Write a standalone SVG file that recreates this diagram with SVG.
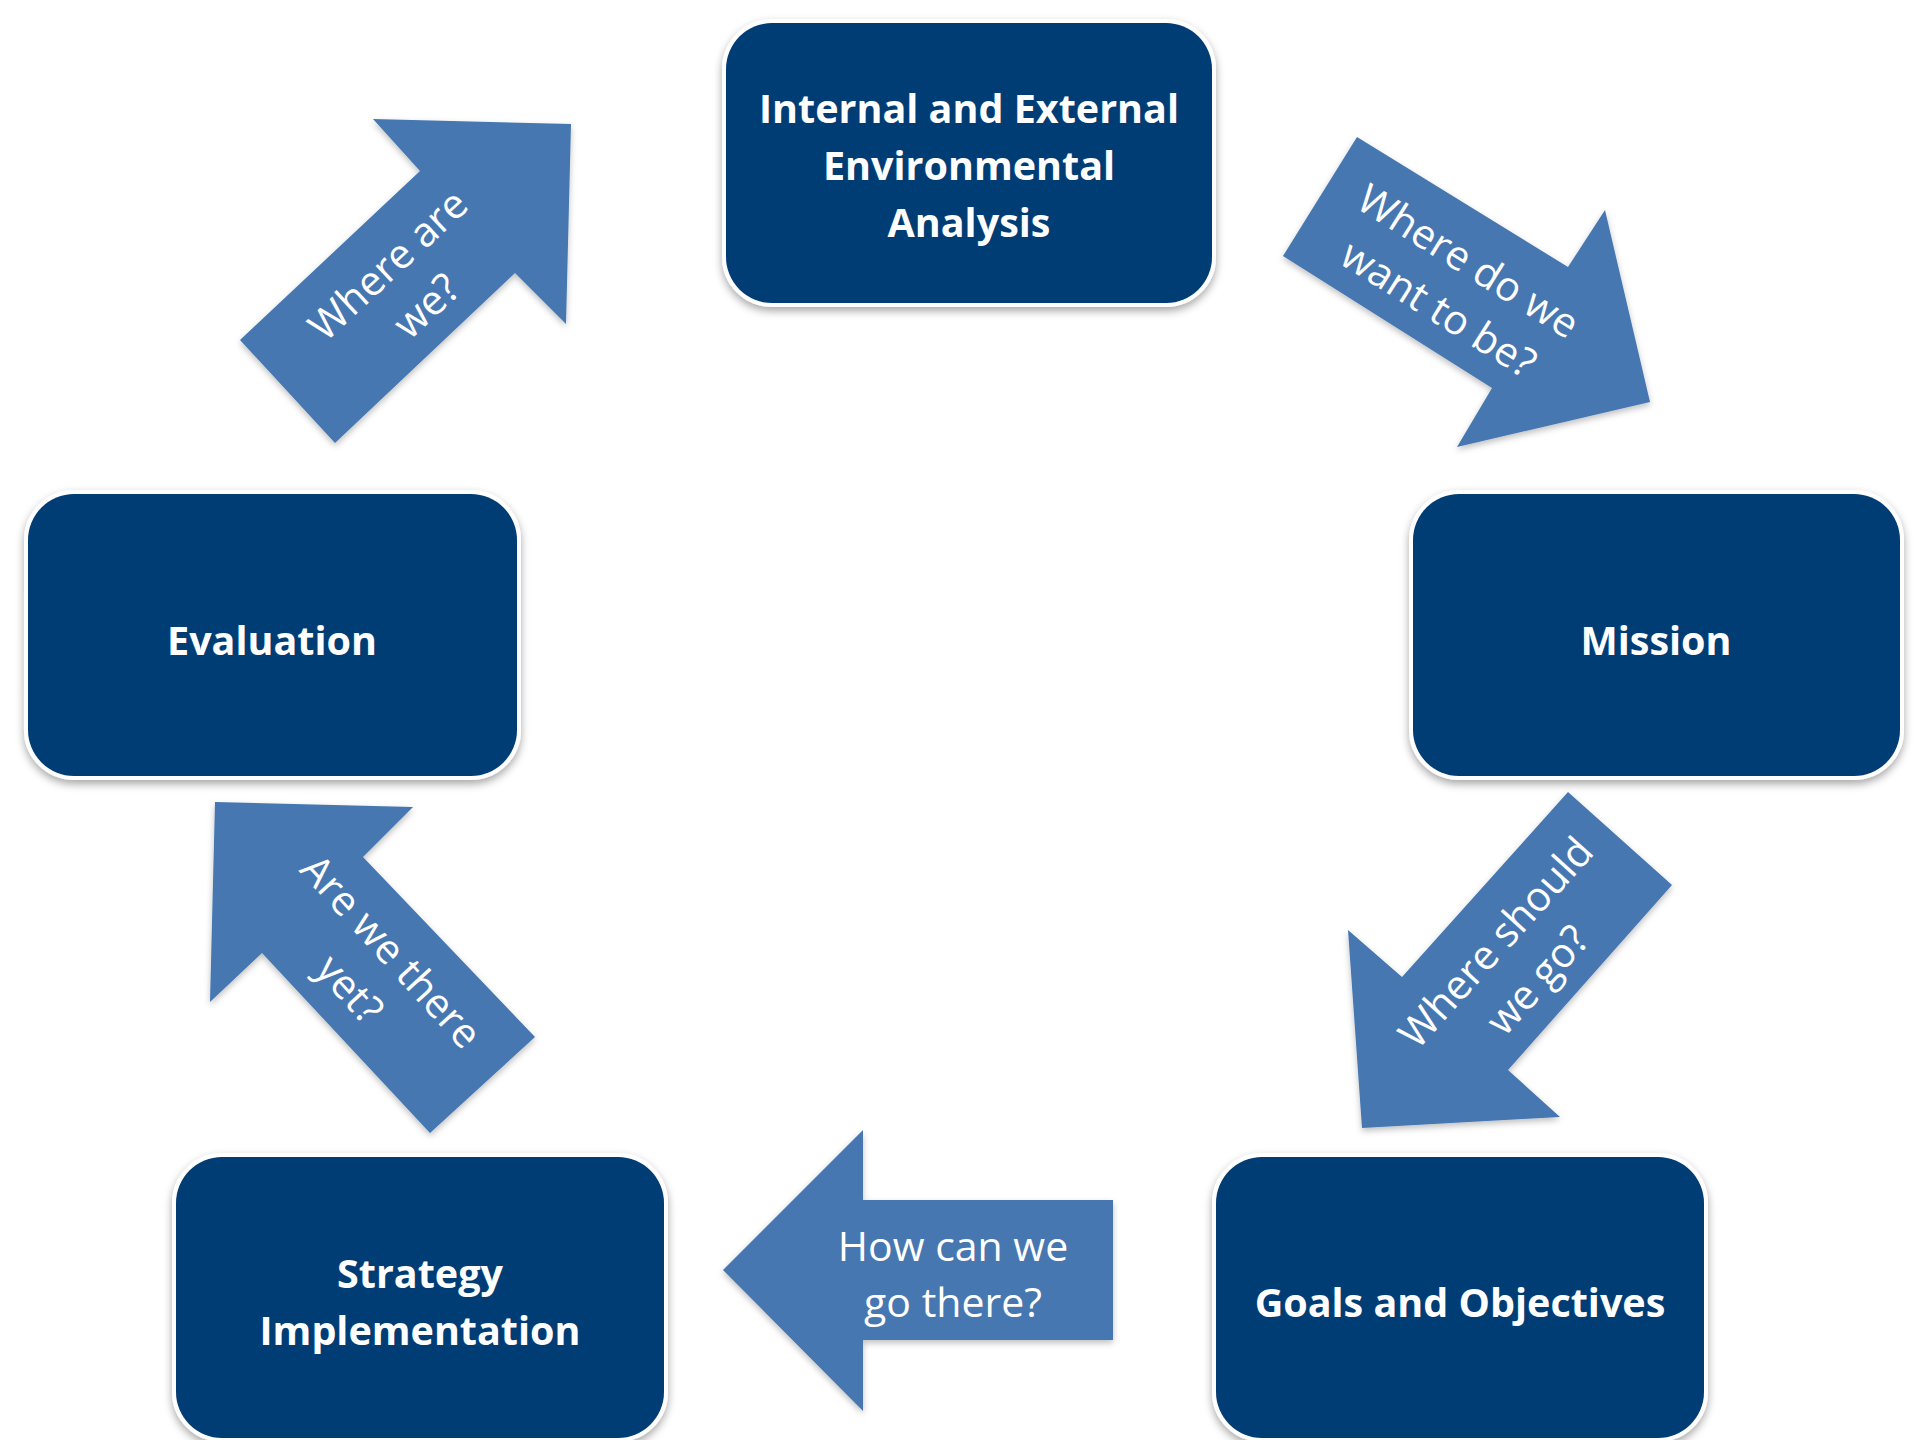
<svg xmlns="http://www.w3.org/2000/svg" width="1920" height="1440" viewBox="0 0 1920 1440">
  <defs>
    <filter id="shadow" x="-10%" y="-10%" width="120%" height="130%">
      <feDropShadow dx="0" dy="4" stdDeviation="4" flood-color="#000" flood-opacity="0.35"/>
    </filter>
    <filter id="ashadow" x="-10%" y="-10%" width="120%" height="130%">
      <feDropShadow dx="0" dy="3" stdDeviation="3" flood-color="#000" flood-opacity="0.25"/>
    </filter>
  </defs>
  <style>
    .box { fill: #043d75; stroke: #ffffff; stroke-width: 8; paint-order: stroke; filter: url(#shadow); }
    .title { font-family: "Open Sans", "Liberation Sans", sans-serif; font-weight: 700; font-size: 39.5px; fill: #ffffff; text-anchor: middle; }
    .arrow { fill: #4677b0; filter: url(#ashadow); }
    .atext { font-family: "Open Sans", "Liberation Sans", sans-serif; font-weight: 400; font-size: 41px; fill: #ffffff; text-anchor: middle; }
  </style>
  <rect width="1920" height="1440" fill="#ffffff"/>

  <g id="connectors">
    <g id="arrow-where-are-we">
      <polygon class="arrow" points="240,340 420,171 373,119 571,124 566,324 515,273 335,443"/>
      <g transform="translate(404,282) rotate(-43)">
        <text class="atext" x="0" y="-9">Where are</text>
        <text class="atext" x="0" y="47">we?</text>
      </g>
    </g>
    <g id="arrow-where-do-we-want">
      <polygon class="arrow" points="1357,137 1568,267 1605,210 1650,402 1457,447 1492,388 1283,256"/>
      <g transform="translate(1456,281) rotate(32)">
        <text class="atext" x="0" y="-9">Where do we</text>
        <text class="atext" x="0" y="47">want to be?</text>
      </g>
    </g>
    <g id="arrow-where-should-we-go">
      <polygon class="arrow" points="1568,792 1672,885 1508,1070 1560,1117 1362,1128 1348,930 1402,977"/>
      <g transform="translate(1513,958) rotate(-48)">
        <text class="atext" x="0" y="-9">Where should</text>
        <text class="atext" x="0" y="47">we go?</text>
      </g>
    </g>
    <g id="arrow-how-can-we-go">
      <polygon class="arrow" points="723,1270 863,1130 863,1200 1113,1200 1113,1340 863,1340 863,1411"/>
      <text class="atext" x="953" y="1261">How can we</text>
      <text class="atext" x="953" y="1317">go there?</text>
    </g>
    <g id="arrow-are-we-there-yet">
      <polygon class="arrow" points="215,802 413,807 363,857 535,1037 430,1133 262,953 210,1002"/>
      <g transform="translate(374,967) rotate(47.6)">
        <text class="atext" x="0" y="-9">Are we there</text>
        <text class="atext" x="0" y="47">yet?</text>
      </g>
    </g>
  </g>

  <g id="node-analysis">
    <rect class="box" x="726" y="23" width="486" height="280" rx="46" ry="46"/>
    <text class="title" x="969" y="123">Internal and External</text>
    <text class="title" x="969" y="180">Environmental</text>
    <text class="title" x="969" y="237">Analysis</text>
  </g>
  <g id="node-mission">
    <rect class="box" x="1413" y="494" width="487" height="282" rx="46" ry="46"/>
    <text class="title" x="1656" y="655">Mission</text>
  </g>
  <g id="node-evaluation">
    <rect class="box" x="28" y="494" width="489" height="282" rx="46" ry="46"/>
    <text class="title" x="272" y="655">Evaluation</text>
  </g>
  <g id="node-goals">
    <rect class="box" x="1216" y="1157" width="488" height="281" rx="46" ry="46"/>
    <text class="title" x="1460" y="1317">Goals and Objectives</text>
  </g>
  <g id="node-strategy">
    <rect class="box" x="176" y="1157" width="488" height="281" rx="46" ry="46"/>
    <text class="title" x="420" y="1288">Strategy</text>
    <text class="title" x="420" y="1345">Implementation</text>
  </g>
</svg>
